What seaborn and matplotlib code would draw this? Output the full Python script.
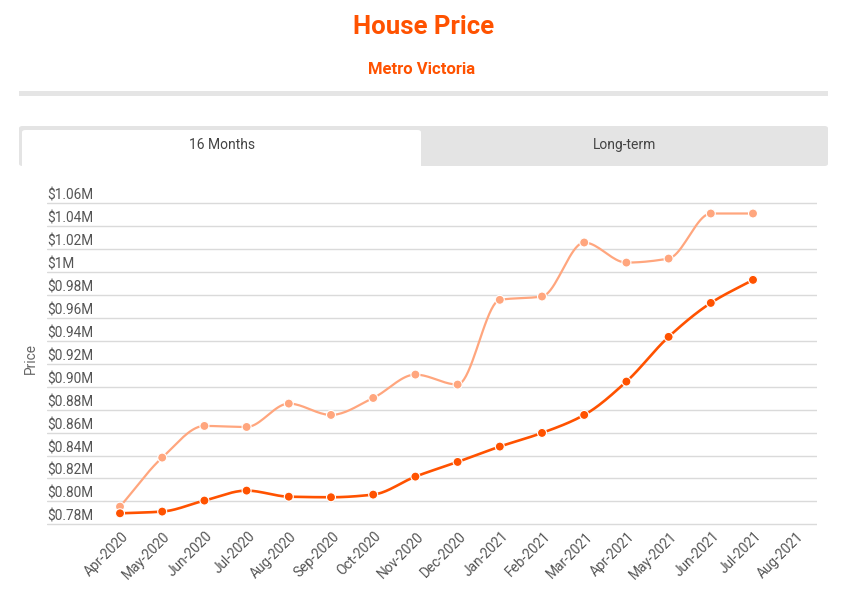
import numpy as np
import pandas as pd
import matplotlib
matplotlib.use("Agg")
import matplotlib.pyplot as plt
import seaborn as sns
from matplotlib.patches import FancyBboxPatch, Rectangle
from matplotlib.transforms import ScaledTranslation

# ---- data ----
months = ["Apr-2020", "May-2020", "Jun-2020", "Jul-2020", "Aug-2020", "Sep-2020",
          "Oct-2020", "Nov-2020", "Dec-2020", "Jan-2021", "Feb-2021", "Mar-2021",
          "Apr-2021", "May-2021", "Jun-2021", "Jul-2021", "Aug-2021"]
series_light = [0.7954, 0.8382, 0.8658, 0.8649, 0.8853, 0.8754, 0.8902, 0.9106,
                0.9019, 0.9758, 0.9787, 1.0258, 1.0083, 1.0118, 1.0511, 1.0511]
series_dark = [0.7896, 0.7911, 0.8007, 0.8094, 0.8041, 0.8036, 0.8059, 0.8216,
               0.8344, 0.8478, 0.8597, 0.8754, 0.9045, 0.9435, 0.9731, 0.9932]
y_ticks = [0.78, 0.80, 0.82, 0.84, 0.86, 0.88, 0.90, 0.92, 0.94, 0.96, 0.98,
           1.00, 1.02, 1.04, 1.06]
y_tick_labels = ["$0.78M", "$0.80M", "$0.82M", "$0.84M", "$0.86M", "$0.88M",
                 "$0.90M", "$0.92M", "$0.94M", "$0.96M", "$0.98M", "$1M",
                 "$1.02M", "$1.04M", "$1.06M"]

ORANGE = "#FF5200"
LIGHT = "#FFA67E"


def monotone(x, y, n=20):
    """Fritsch-Carlson monotone cubic for drawing a smooth line through the points."""
    x = np.asarray(x, float)
    y = np.asarray(y, float)
    h = np.diff(x)
    d = np.diff(y) / h
    m = np.zeros_like(y)
    m[0], m[-1] = d[0], d[-1]
    for i in range(1, len(y) - 1):
        if d[i - 1] * d[i] <= 0:
            m[i] = 0
        else:
            w1 = 2 * h[i] + h[i - 1]
            w2 = h[i] + 2 * h[i - 1]
            m[i] = (w1 + w2) / (w1 / d[i - 1] + w2 / d[i])
    xs, ys = [], []
    for i in range(len(x) - 1):
        t = np.linspace(0, 1, n, endpoint=(i == len(x) - 2))
        h00 = 2 * t**3 - 3 * t**2 + 1
        h10 = t**3 - 2 * t**2 + t
        h01 = -2 * t**3 + 3 * t**2
        h11 = t**3 - t**2
        xs.append(x[i] + t * h[i])
        ys.append(h00 * y[i] + h10 * h[i] * m[i] + h01 * y[i + 1] + h11 * h[i] * m[i + 1])
    return np.concatenate(xs), np.concatenate(ys)


sns.set_theme(style="white")
plt.rcParams["font.family"] = ["Roboto", "DejaVu Sans"]

W, H = 855, 599
fig = plt.figure(figsize=(W / 100, H / 100), dpi=100)


def fx(px):
    return px / W


def fy(py):
    return 1 - py / H


# ---- header ----
fig.text(fx(424), fy(27), "House Price", ha="center", va="center",
         fontsize=18.5, fontweight="bold", color=ORANGE)
fig.text(fx(422), fy(69), "Metro Victoria", ha="center", va="center",
         fontsize=12, fontweight="bold", color=ORANGE)
fig.patches.append(Rectangle((fx(19), fy(96)), fx(809), 5 / H, transform=fig.transFigure,
                             facecolor="#e5e5e5", edgecolor="none"))

# ---- tabs ----
fig.patches.append(FancyBboxPatch((fx(19), fy(166)), fx(809), 40 / H,
                                  boxstyle="round,pad=0,rounding_size=0.004",
                                  transform=fig.transFigure, facecolor="#e4e4e4",
                                  edgecolor="none"))
fig.patches.append(FancyBboxPatch((fx(22), fy(170)), fx(399), 40 / H,
                                  boxstyle="round,pad=0,rounding_size=0.004",
                                  transform=fig.transFigure, facecolor="white",
                                  edgecolor="none"))
fig.text(fx(222), fy(145), "16 Months", ha="center", va="center", fontsize=10, color="#444444")
fig.text(fx(625), fy(145), "Long-term", ha="center", va="center", fontsize=10, color="#444444")

# ---- chart axes ----
px_per_unit = (524.3 - 203.3) / 0.28
pad_u = 0.002
y_lo, y_hi = 0.78 - pad_u, 1.06 + pad_u
top_px = 203.3 - pad_u * px_per_unit
bot_px = 524.3 + pad_u * px_per_unit
left_px, right_px = 47, 817
step = (753 - 120) / 15.0
x_lo = (left_px - 120) / step
x_hi = (right_px - 120) / step

ax = fig.add_axes([fx(left_px), fy(bot_px), fx(right_px - left_px), (bot_px - top_px) / H])
ax.set_xlim(x_lo, x_hi)
ax.set_ylim(y_lo, y_hi)

idx = np.arange(len(series_light))
xl, yl = monotone(idx, series_light)
xd, yd = monotone(idx, series_dark)
curves = pd.DataFrame({
    "x": np.concatenate([xl, xd]),
    "y": np.concatenate([yl, yd]),
    "s": ["light"] * len(xl) + ["dark"] * len(xd),
})
points = pd.DataFrame({
    "x": np.concatenate([idx, idx]),
    "y": series_light + series_dark,
    "s": ["light"] * len(idx) + ["dark"] * len(idx),
})
pal = {"light": LIGHT, "dark": ORANGE}
sns.lineplot(data=curves[curves.s == "light"], x="x", y="y", color=LIGHT, lw=1.6,
             sort=False, estimator=None, ax=ax, legend=False, zorder=3)
sns.lineplot(data=curves[curves.s == "dark"], x="x", y="y", color=ORANGE, lw=1.9,
             sort=False, estimator=None, ax=ax, legend=False, zorder=4)
sns.scatterplot(data=points, x="x", y="y", hue="s", palette=pal, s=42,
                edgecolor="white", linewidth=0.8, ax=ax, legend=False, zorder=5)

for s in ax.spines.values():
    s.set_visible(False)
ax.set_yticks(y_ticks)
ax.set_yticklabels(y_tick_labels)
ax.set_xticks(np.arange(len(months)))
ax.set_xticklabels(months)
ax.grid(axis="y", color="#dadada", lw=1)
ax.grid(axis="x", visible=False)
ax.tick_params(axis="y", length=0, pad=0, labelsize=9.8, labelcolor="#555555")
ax.tick_params(axis="x", length=0, pad=4, labelsize=9.9, labelcolor="#555555")
ax.set_xlabel("")
ax.set_ylabel("Price", fontsize=9.8, color="#666666")
ax.yaxis.set_label_coords((38 - left_px) / (right_px - left_px), (bot_px - 359) / (bot_px - top_px))

for lab in ax.get_yticklabels():
    lab.set_ha("left")
    lab.set_transform(lab.get_transform() + ScaledTranslation(0, 0.09, fig.dpi_scale_trans))
for lab in ax.get_xticklabels():
    lab.set_rotation(45)
    lab.set_ha("right")
    lab.set_va("center")
    lab.set_rotation_mode("anchor")
    lab.set_transform(lab.get_transform() + ScaledTranslation(0.06, -0.02, fig.dpi_scale_trans))

fig.savefig("out.png", dpi=100, facecolor="white")
